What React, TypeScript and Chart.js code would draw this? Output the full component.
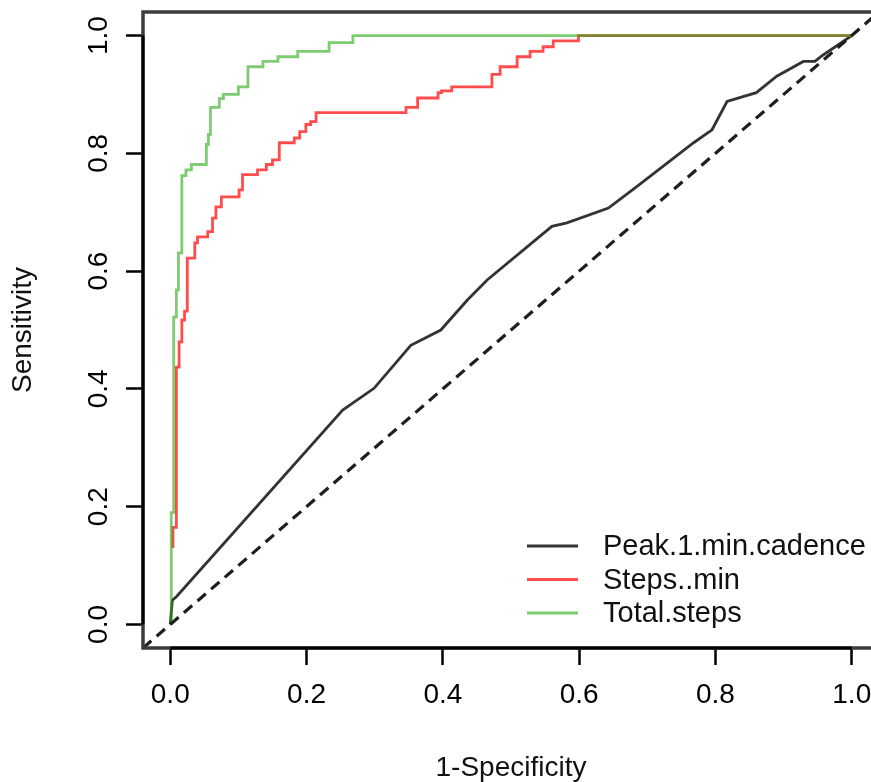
import { useEffect, useRef } from "react";
import { Chart, registerables } from "chart.js";

Chart.register(...registerables);

// ---- data ----
const seriesNames = ["Peak.1.min.cadence", "Steps..min", "Total.steps"];

const peakFpr = [0, 0.003, 0.009, 0.253, 0.299, 0.353, 0.397, 0.436, 0.465, 0.56, 0.582, 0.643, 0.685, 0.768, 0.795, 0.817, 0.86, 0.89, 0.929, 0.946, 0.958, 1.0];
const peakSens = [0, 0.041, 0.047, 0.364, 0.401, 0.474, 0.5, 0.551, 0.585, 0.676, 0.682, 0.707, 0.744, 0.818, 0.84, 0.888, 0.903, 0.931, 0.956, 0.956, 0.967, 1.0];

const stepsMinFpr = [0.004, 0.004, 0.009, 0.009, 0.013, 0.013, 0.017, 0.017, 0.021, 0.021, 0.025, 0.025, 0.036, 0.036, 0.04, 0.04, 0.055, 0.055, 0.062, 0.062, 0.067, 0.067, 0.075, 0.075, 0.101, 0.101, 0.106, 0.106, 0.128, 0.128, 0.141, 0.141, 0.15, 0.15, 0.16, 0.16, 0.182, 0.182, 0.19, 0.19, 0.199, 0.199, 0.206, 0.206, 0.214, 0.214, 0.346, 0.346, 0.363, 0.363, 0.393, 0.393, 0.398, 0.398, 0.413, 0.413, 0.472, 0.472, 0.484, 0.484, 0.509, 0.509, 0.528, 0.528, 0.547, 0.547, 0.562, 0.562, 0.599, 0.599, 1.0];
const stepsMinSens = [0.13, 0.165, 0.165, 0.437, 0.437, 0.48, 0.48, 0.517, 0.517, 0.532, 0.532, 0.622, 0.622, 0.648, 0.648, 0.658, 0.658, 0.667, 0.667, 0.69, 0.69, 0.709, 0.709, 0.726, 0.726, 0.738, 0.738, 0.764, 0.764, 0.772, 0.772, 0.781, 0.781, 0.789, 0.789, 0.818, 0.818, 0.826, 0.826, 0.837, 0.837, 0.849, 0.849, 0.854, 0.854, 0.869, 0.869, 0.878, 0.878, 0.894, 0.894, 0.903, 0.903, 0.906, 0.906, 0.913, 0.913, 0.934, 0.934, 0.947, 0.947, 0.964, 0.964, 0.973, 0.973, 0.981, 0.981, 0.991, 0.991, 1.0, 1.0];

const totalFpr = [0.0015, 0.0015, 0.005, 0.005, 0.009, 0.009, 0.012, 0.012, 0.017, 0.017, 0.023, 0.023, 0.031, 0.031, 0.053, 0.053, 0.056, 0.056, 0.059, 0.059, 0.072, 0.072, 0.078, 0.078, 0.1, 0.1, 0.114, 0.114, 0.136, 0.136, 0.158, 0.158, 0.187, 0.187, 0.233, 0.233, 0.268, 0.268, 1.0];
const totalSens = [0, 0.19, 0.19, 0.522, 0.522, 0.568, 0.568, 0.631, 0.631, 0.762, 0.762, 0.772, 0.772, 0.781, 0.781, 0.815, 0.815, 0.832, 0.832, 0.878, 0.878, 0.893, 0.893, 0.9, 0.9, 0.913, 0.913, 0.947, 0.947, 0.956, 0.956, 0.964, 0.964, 0.973, 0.973, 0.988, 0.988, 1.0, 1.0];

const refLine = [-0.04, 1.04];
const tickValues = [0, 0.2, 0.4, 0.6, 0.8, 1.0];
const xTitle = "1-Specificity";
const yTitle = "Sensitivity";

// ---- styles ----
const FONT = "'Liberation Sans', Arial, Helvetica, sans-serif";
const seriesColors = ["#333333", "rgba(255,0,0,0.7)", "rgba(40,170,20,0.6)"];

const toPoints = (xs: number[], ys: number[]) => xs.map((x, i) => ({ x, y: ys[i] }));

const rFrame = {
  id: "rFrame",
  afterDraw(chart: any) {
    const { ctx, chartArea } = chart;
    const xs = chart.scales.x;
    const ys = chart.scales.y;
    ctx.save();
    // box
    ctx.strokeStyle = "#3c3c3c";
    ctx.lineWidth = 3.5;
    ctx.strokeRect(chartArea.left, chartArea.top, chartArea.right - chartArea.left, chartArea.bottom - chartArea.top);
    // axis lines over tick range
    ctx.strokeStyle = "#000";
    ctx.lineWidth = 3;
    ctx.beginPath();
    ctx.moveTo(xs.getPixelForValue(tickValues[0]), chartArea.bottom);
    ctx.lineTo(xs.getPixelForValue(tickValues[tickValues.length - 1]), chartArea.bottom);
    ctx.moveTo(chartArea.left, ys.getPixelForValue(tickValues[0]));
    ctx.lineTo(chartArea.left, ys.getPixelForValue(tickValues[tickValues.length - 1]));
    ctx.stroke();
    // legend
    const lx0 = 527, lx1 = 578, tx = 603;
    const rows = [546, 579.5, 613];
    ctx.font = `29px ${FONT}`;
    ctx.textBaseline = "middle";
    ctx.textAlign = "left";
    let r = 0;
    chart.data.datasets.forEach((ds: any) => {
      if (!ds.inLegend) return;
      const y = rows[r++];
      ctx.strokeStyle = ds.borderColor;
      ctx.lineWidth = 2.8;
      ctx.beginPath();
      ctx.moveTo(lx0, y);
      ctx.lineTo(lx1, y);
      ctx.stroke();
      ctx.fillStyle = "#111";
      ctx.fillText(ds.label, tx, y + 1);
    });
    ctx.restore();
  },
};

export default function App() {
  const ref = useRef<HTMLCanvasElement | null>(null);

  useEffect(() => {
    if (!ref.current) return;
    const axisCommon = (isX: boolean) => ({
      type: "linear" as const,
      min: -0.04,
      max: 1.04,
      afterBuildTicks: (s: any) => {
        s.ticks = tickValues.map((v) => ({ value: v }));
      },
      afterFit: (s: any) => {
        if (isX) s.height = 134;
        else s.width = 143;
        s.paddingTop = 0;
        s.paddingBottom = 0;
        s.paddingLeft = 0;
        s.paddingRight = 0;
      },
      border: { display: false },
      grid: {
        drawOnChartArea: false,
        drawTicks: true,
        tickLength: 17,
        tickColor: "#000",
        tickWidth: 2.5,
      },
    });

    const chart = new Chart(ref.current, {
      type: "line",
      data: {
        datasets: [
          {
            label: "ref",
            data: toPoints(refLine, refLine),
            borderColor: "#1e1e1e",
            borderWidth: 3.2,
            borderDash: [11, 7],
            pointRadius: 0,
            order: 0,
          } as any,
          {
            label: seriesNames[0],
            data: toPoints(peakFpr, peakSens),
            borderColor: seriesColors[0],
            borderWidth: 2.8,
            pointRadius: 0,
            order: 3,
            inLegend: true,
          },
          {
            label: seriesNames[1],
            data: toPoints(stepsMinFpr, stepsMinSens),
            borderColor: seriesColors[1],
            borderWidth: 2.8,
            pointRadius: 0,
            order: 2,
            inLegend: true,
          },
          {
            label: seriesNames[2],
            data: toPoints(totalFpr, totalSens),
            borderColor: seriesColors[2],
            borderWidth: 2.8,
            pointRadius: 0,
            order: 1,
            inLegend: true,
          },
        ],
      },
      options: {
        animation: false,
        responsive: false,
        maintainAspectRatio: false,
        devicePixelRatio: 1,
        layout: { padding: { top: 12, left: 0, right: 0, bottom: 0 } },
        elements: { line: { tension: 0, fill: false } },
        plugins: { legend: { display: false }, tooltip: { enabled: false } },
        events: [],
        scales: {
          x: {
            ...axisCommon(true),
            position: "bottom",
            ticks: {
              color: "#000",
              font: { family: FONT, size: 28, lineHeight: 1 },
              padding: 16,
              maxRotation: 0,
              minRotation: 0,
              callback: (v: any) => Number(v).toFixed(1),
            },
            title: {
              display: true,
              text: xTitle,
              color: "#111",
              font: { family: FONT, size: 28, lineHeight: 1 },
              padding: { top: 0, bottom: 0 },
            },
          },
          y: {
            ...axisCommon(false),
            position: "left",
            ticks: {
              color: "#000",
              font: { family: FONT, size: 28, lineHeight: 1 },
              padding: 7,
              minRotation: 90,
              maxRotation: 90,
              crossAlign: "center",
              callback: (v: any) => Number(v).toFixed(1),
            },
            title: {
              display: true,
              text: yTitle,
              color: "#111",
              font: { family: FONT, size: 28, lineHeight: 1 },
              padding: { top: 9, bottom: 0 },
            },
          },
        } as any,
      },
      plugins: [rFrame],
    } as any);
    return () => chart.destroy();
  }, []);

  return (
    <div
      style={{
        position: "absolute",
        left: 0,
        top: 0,
        width: 871,
        height: 782,
        overflow: "hidden",
        background: "#fff",
      }}
    >
      <canvas ref={ref} width={879} height={782} style={{ display: "block", width: 879, height: 782 }} />
    </div>
  );
}
